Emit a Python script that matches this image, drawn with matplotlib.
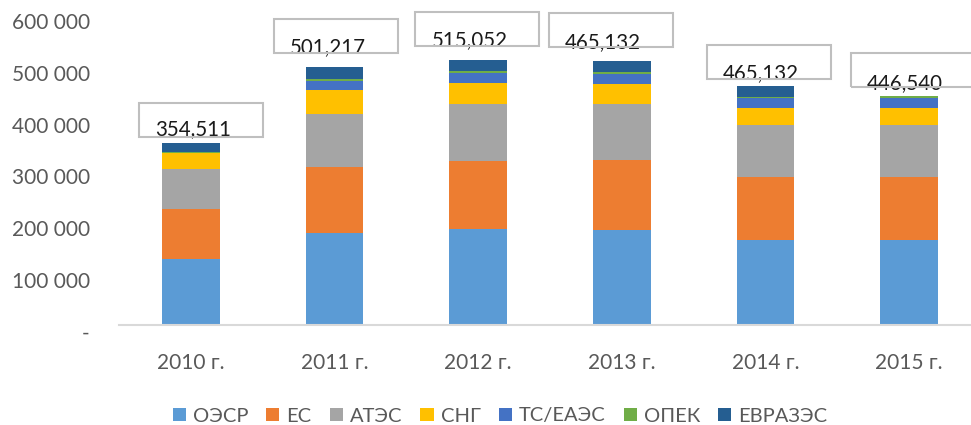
import matplotlib
matplotlib.use('Agg')
import matplotlib.pyplot as plt
from matplotlib.patches import Rectangle, Patch
from matplotlib.transforms import ScaledTranslation

plt.rcParams['font.family'] = ['Lato', 'Open Sans', 'DejaVu Sans']

# данные
years = ['2010 г.', '2011 г.', '2012 г.', '2013 г.', '2014 г.', '2015 г.']
series = ['ОЭСР', 'ЕС', 'АТЭС', 'СНГ', 'ТС/ЕАЭС', 'ОПЕК', 'ЕВРАЗЭС']
oecd = [128600, 179000, 186800, 184700, 165500, 165500]
eu = [96700, 127700, 131600, 135400, 120600, 120600]
apec = [77400, 102500, 110200, 108300, 102000, 102000]
cis = [30400, 46500, 40600, 38700, 32900, 32900]
eaeu = [0, 17400, 19400, 19400, 19400, 19400]
opec = [2600, 3900, 3900, 3900, 1900, 3000]
eurasec = [18100, 23200, 21300, 21300, 20700, 0]
total_labels = ['354,511', '501,217', '515,052', '465,132', '465,132', '446,540']

colors = ['#5B9BD5', '#ED7D31', '#A5A5A5', '#FFC000', '#4472C4', '#70AD47', '#255E91']
values = [oecd, eu, apec, cis, eaeu, opec, eurasec]

fig = plt.figure(figsize=(9.71, 4.25), dpi=100)
ax = fig.add_axes([119/971, 0.2346, 862/971, 0.7294])

x = range(len(years))
bottom = [0] * len(years)
for name, vals, c in zip(series, values, colors):
    ax.bar(x, vals, width=0.40, bottom=bottom, color=c, label=name, zorder=2)
    bottom = [b + v for b, v in zip(bottom, vals)]

ax.set_xlim(-0.5, 5.5)
ax.set_ylim(0, 600000)
ticks = list(range(0, 600001, 100000))
ax.set_yticks(ticks)
ax.set_yticklabels(['-' if t == 0 else f'{t:,}'.replace(',', ' ') for t in ticks])
ax.set_xticks(list(x))
ax.set_xticklabels(years)
ax.tick_params(axis='y', length=0, pad=21, labelsize=15, labelcolor='#595959')
ax.tick_params(axis='x', length=0, pad=20, labelsize=15, labelcolor='#595959')
shift = ScaledTranslation(0, -0.06, fig.dpi_scale_trans)
for lab in ax.get_yticklabels():
    lab.set_transform(lab.get_transform() + shift)

for s in ['top', 'right', 'left']:
    ax.spines[s].set_visible(False)
ax.spines['bottom'].set_color('#D9D9D9')
ax.spines['bottom'].set_linewidth(1.5)

# подписи итогов в рамках (сдвиги в пикселях)
box_dx = [10, 1, -1, -11, 3.5, 4]
box_dy = [6, 14, 14, 14, 7, 9]
txt_dx = [2, -7, -8, -19, -5, -4]
txt_dy = [13, 20, 20, 19, 13, 13]
fig.canvas.draw()
for i in range(len(years)):
    px, py = ax.transData.transform((i, bottom[i]))
    bw, bh = 124, 34
    rect = Rectangle((px + box_dx[i] - bw / 2, py + box_dy[i]), bw, bh,
                     transform=None, fill=False, edgecolor='#BFBFBF',
                     linewidth=1.5, zorder=3, clip_on=False)
    fig.add_artist(rect)
    ax.annotate(total_labels[i], (i, bottom[i]), xytext=(txt_dx[i], txt_dy[i]),
                textcoords='offset pixels', ha='center', va='center',
                fontsize=14.8, color='#1a1a1a', zorder=4, annotation_clip=False)

handles = [Patch(facecolor=c, label=n) for n, c in zip(series, colors)]
fig.legend(handles=handles, loc='center', bbox_to_anchor=(500/971, 1 - 416/425),
           ncol=7, frameon=False, fontsize=14.5, labelcolor='#595959',
           handlelength=0.65, handleheight=0.65, handletextpad=0.35,
           columnspacing=0.9, borderaxespad=0)

fig.savefig('out.png', dpi=100)
